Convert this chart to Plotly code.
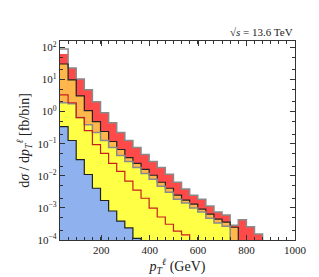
import plotly.graph_objects as go

# ---- data ----
x_min, x_max, n_bins = 30.0, 1000.0, 29
bin_edges = [x_min + i * (x_max - x_min) / n_bins for i in range(n_bins + 1)]

# stacked totals per bin (fb/bin)
red_top = [62.0, 22.9, 10.4, 4.76, 2.03, 0.92, 0.45, 0.222, 0.126, 0.076, 0.046, 0.028,
           0.0183, 0.0111, 0.0063, 0.0039, 0.0025, 0.00187, 0.00114, 0.00074, 0.0006,
           0.00029, 0.00043, 0.00026, 0.000155]
red_outline = [90.0] + red_top[1:]
orange_top = [30.4, 9.7, 3.1, 1.07, 0.49, 0.24, 0.117, 0.066, 0.037, 0.0244, 0.0159, 0.0104,
              0.0063, 0.0041, 0.0025, 0.00174, 0.00131, 0.00092, 0.00064, 0.00045, 0.00036,
              0.00025]
yellow_top = [1.89, 1.76, 0.65, 0.39, 0.222, 0.126, 0.076, 0.043, 0.028, 0.0183, 0.0119,
              0.0078, 0.0047, 0.0031, 0.00187, 0.00141, 0.00099, 0.00074, 0.00048, 0.00034,
              0.00027]
blue_top = [0.34, 0.126, 0.032, 0.011, 0.0041, 0.0017, 0.0008, 0.00039, 0.00024, 0.000112]
crimson_line = [3.33, 1.89, 0.65, 0.256, 0.094, 0.050, 0.0244, 0.0138, 0.0068, 0.0036,
                0.0020, 0.00099, 0.00052, 0.00031, 0.00019, 0.000144]

x_ticks = [200, 400, 600, 800, 1000]
y_exponents = [-4, -3, -2, -1, 0, 1, 2]

# ---- figure ----
fig = go.Figure()
bw = (x_max - x_min) / n_bins
centers = [(bin_edges[i] + bin_edges[i + 1]) / 2 for i in range(n_bins)]


def fill(vals, color):
    fig.add_trace(go.Bar(x=centers[:len(vals)], y=vals, width=bw, marker_color=color,
                         marker_line_width=0, showlegend=False, hoverinfo="skip"))


def step(vals, color, w=1.3):
    n = len(vals)
    xs = bin_edges[:n] + [bin_edges[n], bin_edges[n]]
    ys = list(vals) + [vals[-1], 1e-9]
    fig.add_trace(go.Scatter(x=xs, y=ys, mode="lines", line=dict(color=color, width=w, shape="hv"),
                             showlegend=False, hoverinfo="skip"))


fill(red_top, "#ff4a4a")
fill(orange_top, "#ffb64a")
fill(yellow_top, "#ffff45")
fill(blue_top, "#8fb2ee")

step(red_outline, "#8a8a8a", 1.5)
step(orange_top, "#222222", 1.2)
step(yellow_top, "#8a8a8a", 1.5)
step(crimson_line, "#c8201e", 1.2)
step(blue_top, "#222222", 1.2)

font_family = "Liberation Serif"
axis_common = dict(showline=True, linecolor="#333333", linewidth=1.3, mirror="ticks",
                   ticks="inside", tickcolor="#333333", showgrid=False, zeroline=False)

fig.update_layout(
    width=319, height=277,
    margin=dict(l=52, r=32, t=33, b=45),
    paper_bgcolor="white", plot_bgcolor="white",
    barmode="overlay", bargap=0,
    font=dict(family=font_family, size=11, color="#222222"),
    xaxis=dict(range=[x_min, x_max], tickvals=x_ticks, ticklen=5, tickwidth=1.2,
               minor=dict(ticks="inside", ticklen=3, tick0=x_min, dtick=bw, tickcolor="#333333"),
               title=dict(text="<i>p</i><sub><i>T</i></sub><sup><i>ℓ</i></sup> (GeV)",
                          font=dict(size=14), standoff=3),
               **axis_common),
    yaxis=dict(type="log", range=[-4, 2.2],
               tickvals=[10.0 ** e for e in y_exponents],
               ticktext=["10<sup>%s</sup>" % (str(e).replace("-", "−")) for e in y_exponents],
               ticklen=5, tickwidth=1.2,
               minor=dict(ticks="inside", ticklen=3, tickcolor="#333333"),
               title=dict(text="d<i>σ</i> / d<i>p</i><sub><i>T</i></sub><sup><i>ℓ</i></sup> [fb/bin]",
                          font=dict(size=14), standoff=4),
               **axis_common),
    annotations=[dict(text="√<i>s</i> = 13.6 TeV", x=1, y=1, xref="paper", yref="paper",
                      xanchor="right", yanchor="bottom", showarrow=False, yshift=1,
                      font=dict(size=11))],
)

fig.write_html("out.html")
